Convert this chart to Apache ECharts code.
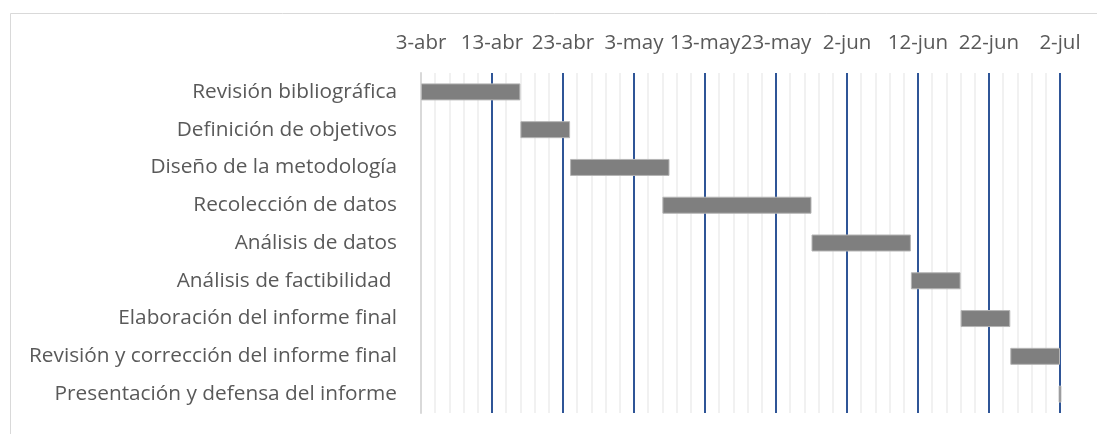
<!DOCTYPE html>
<html>
<head>
<meta charset="utf-8">
<script src="https://cdn.jsdelivr.net/npm/echarts@6/dist/echarts.min.js"></script>
<style>html,body{margin:0;padding:0;background:#fff}#c{width:1097px;height:434px}</style>
</head>
<body>
<div id="c"></div>
<script>
const tasks = ["Revisión bibliográfica","Definición de objetivos","Diseño de la metodología","Recolección de datos","Análisis de datos","Análisis de factibilidad ","Elaboración del informe final","Revisión y corrección del informe final","Presentación y defensa del informe"];
// start offset in days from 3-abr, and duration in days
const startDay = [0, 14, 21, 34, 55, 69, 76, 83, 89.8];
const durationDays = [14, 7, 14, 21, 14, 7, 7, 7, 0.4];
const tickLabels = ["3-abr","13-abr","23-abr","3-may","13-may","23-may","2-jun","12-jun","22-jun","2-jul"];

const chart = echarts.init(document.getElementById('c'), null, {renderer:'canvas'});
const font = '"Open Sans", sans-serif';
chart.setOption({
  animation:false,
  backgroundColor:'#fff',
  graphic:[{type:'rect', left:8, top:11, shape:{width:1300,height:600}, style:{fill:'none', stroke:'#d9d9d9', lineWidth:1}, z:-1}],
  grid:{left:421, right:37, top:73, bottom:21},
  xAxis:{
    type:'value', position:'top', min:0, max:90, interval:10,
    axisLine:{show:false}, axisTick:{show:false},
    axisLabel:{color:'#595959', fontSize:20.5, fontFamily:font, margin:19,
      formatter:(v)=>tickLabels[Math.round(v/10)]},
    splitLine:{show:true, lineStyle:{color:'#2f5597', width:2}},
    minorTick:{show:false, splitNumber:5},
    minorSplitLine:{show:true, lineStyle:{color:'#ededed', width:1.5}}
  },
  yAxis:{
    type:'category', inverse:true, data:tasks,
    axisLine:{show:true, lineStyle:{color:'#d9d9d9', width:2}},
    axisTick:{show:false},
    axisLabel:{color:'#595959', fontSize:20.8, fontFamily:font, margin:24}
  },
  series:[
    {type:'bar', stack:'g', data:startDay, itemStyle:{color:'transparent'}, barWidth:17, silent:true},
    {type:'bar', stack:'g', data:durationDays, clip:false, itemStyle:{color:'#7f7f7f', borderColor:'#b5b5b5', borderWidth:1}, barWidth:17}
  ]
});
</script>
</body>
</html>
